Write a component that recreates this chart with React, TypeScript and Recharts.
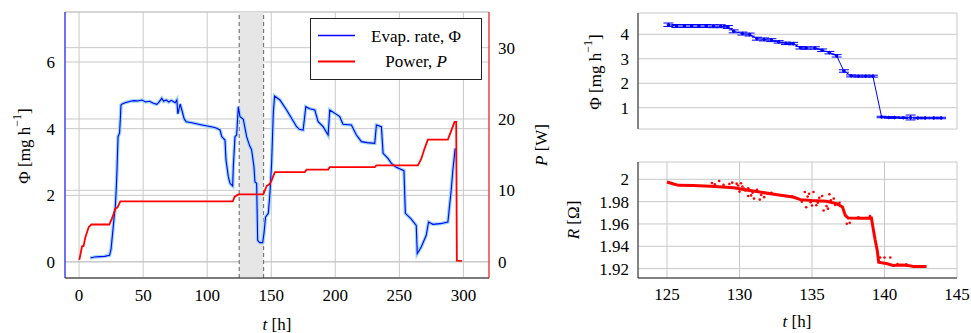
import {
  ComposedChart,
  Line,
  Scatter,
  XAxis,
  YAxis,
  CartesianGrid,
  ReferenceArea,
  ReferenceLine,
  ErrorBar,
} from 'recharts';

const FONT = '"Liberation Serif", "DejaVu Serif", serif';
const BLUE = '#0000ff';
const BAND = '#9ad6f2';
const RED = '#ff0000';
const GRID = '#c8c8c8';
const FRAME = '#222';

// left panel: evaporation rate over the whole run
const phiTime = [
  8.8, 12, 16, 20, 23.8, 25, 26.5, 27.5, 28.3, 29, 29.6, 30.4, 31.6, 32.2, 32.7, 34, 36, 38, 40, 43,
  46, 49, 52, 55, 58, 60.7, 62, 64.6, 66, 68, 70, 72, 75, 76.3, 77.1, 78.9, 80.2, 82, 83.6, 88,
  95, 100, 105, 107.5, 110, 111.4, 113.9, 114.7, 116.5, 117.8, 119.9, 120.4, 121.7, 123, 124.3, 125.6, 128.2, 130.8, 133, 134.7,
  136.5, 137.3, 138.6, 139.4, 141, 143.3, 144.3, 145.6, 147.7, 149, 150.3, 151.6, 152.6, 156.8, 162, 169.8, 172, 174.9, 177, 180,
  184, 186.6, 190.5, 194.4, 195.7, 200, 203.5, 206, 212.6, 216.5, 220.4, 225, 230.8, 232.1, 236, 237.3, 241.1, 243.8, 247.7, 253.6,
  254.7, 259, 263.2, 264, 267.1, 271, 272.8, 276.2, 282, 287.9, 290.5, 291.8, 293.6,
];
const phiRate = [
  0.12, 0.15, 0.16, 0.17, 0.2, 0.4, 1.0, 1.4, 1.65, 2.2, 2.76, 3.76, 3.87, 4.3, 4.71, 4.75, 4.78, 4.8, 4.82, 4.84,
  4.83, 4.86, 4.8, 4.82, 4.76, 4.73, 4.78, 4.91, 4.82, 4.86, 4.8, 4.85, 4.78, 4.86, 4.44, 4.74, 4.56, 4.3, 4.21, 4.18,
  4.12, 4.08, 4.04, 4.01, 3.96, 3.76, 3.66, 3.06, 2.56, 2.36, 2.28, 2.86, 3.76, 3.81, 4.66, 4.36, 4.28, 3.76, 3.5, 3.36,
  2.86, 2.4, 2.36, 0.65, 0.58, 0.58, 0.85, 1.35, 1.46, 2.06, 2.96, 4.46, 4.98, 4.86, 4.56, 4.06, 3.98, 3.96, 4.66, 4.6,
  4.56, 4.21, 4.06, 3.81, 4.56, 4.45, 4.36, 4.13, 4.11, 3.81, 3.61, 3.58, 3.56, 4.11, 4.06, 3.26, 3.11, 2.96, 2.84, 2.74,
  1.46, 1.3, 1.1, 0.25, 0.45, 0.8, 1.2, 1.13, 1.15, 1.2, 2.16, 2.76, 3.41,
];

// left panel: heater power
const powerTime = [
  0.2, 2.3, 3.5, 4.9, 6, 7.5, 9.6, 23.6, 25.5, 27, 28.3, 30, 32.2, 119.9, 121.5, 124.3, 143.8, 146.4, 149, 150.5,
  152.9, 176.2, 177.6, 194.4, 195.7, 230.8, 232.1, 264.5, 267.1, 269.7, 272.3, 287.9, 293.1, 294.4, 294.9, 298.8,
];
const powerValue = [
  0.24, 2.15, 2.2, 3.42, 4.0, 4.83, 5.2, 5.2, 6.0, 6.7, 7.4, 7.6, 8.44, 8.44, 9.1, 9.42, 9.42, 10.6, 10.9, 11.5,
  12.56, 12.56, 12.9, 12.9, 13.26, 13.26, 13.5, 13.5, 14.4, 15.85, 17.1, 17.1, 19.6, 19.6, 0.14, 0.1,
];

const timeTicks = [0, 50, 100, 150, 200, 250, 300];
const phiTicks = [0, 2, 4, 6];
const powerTicks = [0, 10, 20, 30];
const windowStart = 125;
const windowEnd = 144;

// right panels: zoom into the shaded window
const zoomTime = [
  125.1, 125.65, 126.2, 126.7, 127.2, 127.7, 128.2, 128.7, 129.2, 129.6, 130.2, 130.7, 131.2, 131.7, 132.2, 132.7, 133.2, 133.7, 134.2,
  134.6, 135.2, 135.7, 136.2, 136.7, 137.2, 137.7, 138.2, 138.7, 139.2, 139.8, 140.3, 140.7, 141.3, 141.8, 142.3, 142.8, 143.4, 143.9,
];
const zoomRate = [
  4.39, 4.34, 4.34, 4.34, 4.34, 4.34, 4.33, 4.33, 4.3, 4.12, 4.03, 3.99, 3.82, 3.79, 3.76, 3.69, 3.63, 3.62, 3.45,
  3.44, 3.44, 3.35, 3.25, 3.12, 2.5, 2.3, 2.29, 2.29, 2.29, 0.62, 0.6, 0.6, 0.59, 0.6, 0.58, 0.58, 0.58, 0.58,
];
const zoomErr = [
  0.07, 0.06, 0.06, 0.06, 0.06, 0.06, 0.06, 0.06, 0.06, 0.06, 0.06, 0.06, 0.06, 0.06, 0.06, 0.05, 0.05, 0.05, 0.05,
  0.05, 0.05, 0.05, 0.05, 0.05, 0.05, 0.04, 0.04, 0.04, 0.04, 0.03, 0.03, 0.03, 0.03, 0.1, 0.03, 0.03, 0.03, 0.03,
];

const resTime = [
  125.0, 125.4, 125.8, 126.8, 128, 129.6, 130.5, 131.4, 132.6, 133.7, 134.2, 135, 136, 136.7, 137.1, 137.3, 137.5, 138.5,
  139.1, 139.2, 139.35, 139.5, 139.6, 140.2, 140.6, 141.2, 141.6, 142.0, 142.9,
];
const resValue = [
  1.9976, 1.996, 1.9946, 1.9944, 1.9938, 1.9925, 1.9905, 1.9886, 1.9862, 1.9841, 1.9818, 1.981, 1.9803, 1.9782, 1.9752, 1.9677, 1.9653, 1.9652,
  1.9653, 1.9572, 1.946, 1.9363, 1.9258, 1.9244, 1.9229, 1.9233, 1.9229, 1.922, 1.922,
];
const resOutTime = [
  128.1, 128.6, 129.5, 130.1, 130.4, 130.8, 131.4, 131.7, 129.8, 130.3, 130.6, 131.0, 134.5, 134.8, 135.1, 134.6,
  135.3, 135.8, 136.1, 136.2, 136.5, 137.4, 139.0, 140.0, 140.4, 135.5, 134.9, 133.6,
  128.3, 128.9, 129.3, 129.9, 130.0, 130.2, 130.6, 130.9, 131.2, 131.5, 131.9, 132.2, 133.2, 133.8,
  134.3, 134.7, 135.0, 135.4, 135.7, 136.0, 136.3, 136.6, 136.9, 137.6, 138.2, 139.7, 140.9, 141.5,
];
const resOutValue = [
  1.9967, 1.9985, 1.997, 1.9965, 1.990, 1.9856, 1.9818, 1.984, 1.9961, 1.9917, 1.985, 1.9827, 1.9886, 1.987, 1.9886, 1.975,
  1.9767, 1.972, 1.9737, 1.9866, 1.9827, 1.9602, 1.967, 1.930, 1.930, 1.9835, 1.9795, 1.9848,
  1.9955, 1.995, 1.9958, 1.9945, 1.989, 1.9935, 1.992, 1.988, 1.9905, 1.986, 1.9875, 1.988, 1.985, 1.9838,
  1.98, 1.9845, 1.9765, 1.979, 1.985, 1.976, 1.9812, 1.977, 1.979, 1.961, 1.966, 1.93, 1.924, 1.9238,
];

const windowTicks = [125, 130, 135, 140, 145];
const zoomRateTicks = [1, 2, 3, 4];
const resTicks = [1.92, 1.94, 1.96, 1.98, 2];

const phiData = phiTime.map((t, i) => ({ t, v: phiRate[i] }));
const powerData = powerTime.map((t, i) => ({ t, v: powerValue[i] }));
const zoomData = zoomTime.map((t, i) => ({ t, v: zoomRate[i], err: zoomErr[i] }));
const resData = resTime.map((t, i) => ({ t, v: resValue[i] }));
const resOutData = resOutTime.map((t, i) => ({ t, v: resOutValue[i] }));

const txt = { fontFamily: FONT, fontSize: 17, fill: '#000' };

// serif tick labels (the default tick text ignores the font family here)
function SerifTick(props: any) {
  const { x, y, payload, textAnchor, verticalAnchor } = props;
  const dy = verticalAnchor === 'start' ? '0.71em' : verticalAnchor === 'end' ? '0' : '0.355em';
  return (
    <text x={x} y={y} dy={dy} textAnchor={textAnchor} {...txt}>
      {payload.value}
    </text>
  );
}

function LeftPanel() {
  return (
    <ComposedChart width={560} height={333} margin={{ top: 12, right: 21, bottom: 25, left: 15 }}>
      <CartesianGrid yAxisId="phi" stroke={GRID} />
      <CartesianGrid yAxisId="p" stroke={GRID} vertical={false} />
      <XAxis
        type="number"
        dataKey="t"
        domain={[-11, 320]}
        ticks={timeTicks}
        interval={0}
        allowDataOverflow
        height={30}
        tickSize={0}
        tickMargin={11}
        tickLine={false}
        axisLine={{ stroke: FRAME }}
        tick={<SerifTick />}
      />
      <XAxis xAxisId="top" orientation="top" type="number" domain={[-11, 320]} height={0} tick={false} tickLine={false} axisLine={{ stroke: FRAME }} />
      <YAxis
        yAxisId="phi"
        type="number"
        domain={[-0.48, 7.5]}
        ticks={phiTicks}
        interval={0}
        allowDataOverflow
        width={50}
        tickSize={0}
        tickMargin={10}
        tickLine={false}
        axisLine={{ stroke: BLUE }}
        tick={<SerifTick />}
      />
      <YAxis
        yAxisId="p"
        orientation="right"
        type="number"
        domain={[-2.3, 35]}
        ticks={powerTicks}
        interval={0}
        allowDataOverflow
        width={50}
        tickSize={0}
        tickMargin={9}
        tickLine={false}
        axisLine={{ stroke: RED }}
        tick={<SerifTick />}
      />
      <ReferenceArea yAxisId="phi" x1={windowStart} x2={windowEnd} fill="#e6e6e6" fillOpacity={1} stroke="none" />
      <ReferenceLine yAxisId="phi" x={windowStart} stroke="#777" strokeDasharray="4 3" strokeWidth={1.2} />
      <ReferenceLine yAxisId="phi" x={windowEnd} stroke="#777" strokeDasharray="4 3" strokeWidth={1.2} />
      <Line yAxisId="phi" data={phiData} dataKey="v" type="linear" dot={false} stroke={BAND} strokeWidth={3.5} isAnimationActive={false} />
      <Line yAxisId="phi" data={phiData} dataKey="v" type="linear" dot={false} stroke={BLUE} strokeWidth={1.1} isAnimationActive={false} />
      <Line yAxisId="p" data={powerData} dataKey="v" type="linear" dot={false} stroke={RED} strokeWidth={1.8} isAnimationActive={false} />
    </ComposedChart>
  );
}

function ZoomRatePanel() {
  return (
    <ComposedChart width={411} height={140} margin={{ top: 13, right: 14, bottom: 11, left: 0 }}>
      <CartesianGrid stroke={GRID} />
      <XAxis type="number" dataKey="t" domain={[123, 145]} ticks={windowTicks} interval={0} allowDataOverflow height={0} tick={false} tickLine={false} axisLine={{ stroke: FRAME }} />
      <XAxis xAxisId="top" orientation="top" type="number" domain={[123, 145]} height={0} tick={false} tickLine={false} axisLine={{ stroke: FRAME }} />
      <YAxis
        type="number"
        domain={[0.13, 4.87]}
        ticks={zoomRateTicks}
        interval={0}
        allowDataOverflow
        width={78}
        tickSize={0}
        tickMargin={9}
        tickLine={false}
        axisLine={{ stroke: FRAME }}
        tick={<SerifTick />}
      />
      <YAxis yAxisId="r" orientation="right" width={0} tick={false} tickLine={false} axisLine={{ stroke: FRAME }} />
      <Line data={zoomData} dataKey="v" type="linear" stroke={BLUE} strokeWidth={1} dot={{ r: 1.3, fill: BLUE, stroke: BLUE }} isAnimationActive={false}>
        <ErrorBar dataKey="err" width={5} stroke={BLUE} strokeWidth={1} direction="y" isAnimationActive={false} />
      </Line>
    </ComposedChart>
  );
}

function ResistancePanel() {
  return (
    <ComposedChart width={411} height={183} margin={{ top: 12, right: 14, bottom: 25, left: 0 }}>
      <CartesianGrid stroke={GRID} />
      <XAxis
        type="number"
        dataKey="t"
        domain={[123, 145]}
        ticks={windowTicks}
        interval={0}
        allowDataOverflow
        height={30}
        tickSize={0}
        tickMargin={10}
        tickLine={false}
        axisLine={{ stroke: FRAME }}
        tick={<SerifTick />}
      />
      <XAxis xAxisId="top" orientation="top" type="number" domain={[123, 145]} height={0} tick={false} tickLine={false} axisLine={{ stroke: FRAME }} />
      <YAxis
        type="number"
        domain={[1.9116, 2.0155]}
        ticks={resTicks}
        interval={0}
        allowDataOverflow
        width={78}
        tickSize={0}
        tickMargin={9}
        tickLine={false}
        axisLine={{ stroke: FRAME }}
        tick={<SerifTick />}
      />
      <YAxis yAxisId="r" orientation="right" width={0} tick={false} tickLine={false} axisLine={{ stroke: FRAME }} />
      <Line data={resData} dataKey="v" type="linear" stroke={RED} strokeWidth={3} dot={false} isAnimationActive={false} />
      <Scatter
        data={resOutData}
        dataKey="v"
        fill={RED}
        isAnimationActive={false}
        shape={(p: any) => <circle cx={p.cx} cy={p.cy} r={1.3} fill={RED} />}
      />
    </ComposedChart>
  );
}

function Overlay() {
  return (
    <svg width={971} height={333} style={{ position: 'absolute', left: 0, top: 0, pointerEvents: 'none' }}>
      {/* axis titles */}
      <text transform="translate(24,146) rotate(-90)" textAnchor="middle" dominantBaseline="central" {...txt}>
        Φ [mg h<tspan dy={-7} fontSize={12}>−1</tspan><tspan dy={7}>]</tspan>
      </text>
      <text transform="translate(541,145) rotate(-90)" textAnchor="middle" dominantBaseline="central" {...txt}>
        <tspan fontStyle="italic">P</tspan> [W]
      </text>
      <text x={277} y={330} textAnchor="middle" {...txt}>
        <tspan fontStyle="italic">t</tspan> [h]
      </text>
      <text transform="translate(595,72) rotate(-90)" textAnchor="middle" dominantBaseline="central" {...txt}>
        Φ [mg h<tspan dy={-7} fontSize={12}>−1</tspan><tspan dy={7}>]</tspan>
      </text>
      <text transform="translate(573,220) rotate(-90)" textAnchor="middle" dominantBaseline="central" {...txt}>
        <tspan fontStyle="italic">R</tspan> [Ω]
      </text>
      <text x={797} y={327} textAnchor="middle" {...txt}>
        <tspan fontStyle="italic">t</tspan> [h]
      </text>
      {/* legend of the left panel */}
      <rect x={310.5} y={18.5} width={171} height={61} fill="#fff" stroke={FRAME} strokeWidth={1} />
      <line x1={318} x2={355} y1={35.5} y2={35.5} stroke={BLUE} strokeWidth={1.3} />
      <text x={416} y={42} textAnchor="middle" {...txt}>Evap. rate, Φ</text>
      <line x1={318} x2={355} y1={61.5} y2={61.5} stroke={RED} strokeWidth={1.8} />
      <text x={416} y={67} textAnchor="middle" {...txt}>
        Power, <tspan fontStyle="italic">P</tspan>
      </text>
    </svg>
  );
}

export default function App() {
  return (
    <div style={{ position: 'absolute', left: 0, top: 0, width: 971, height: 333, background: '#fff', overflow: 'hidden', fontFamily: FONT }}>
      <div style={{ position: 'absolute', left: 0, top: 0 }}>
        <LeftPanel />
      </div>
      <div style={{ position: 'absolute', left: 560, top: 0 }}>
        <ZoomRatePanel />
      </div>
      <div style={{ position: 'absolute', left: 560, top: 150 }}>
        <ResistancePanel />
      </div>
      <Overlay />
    </div>
  );
}
